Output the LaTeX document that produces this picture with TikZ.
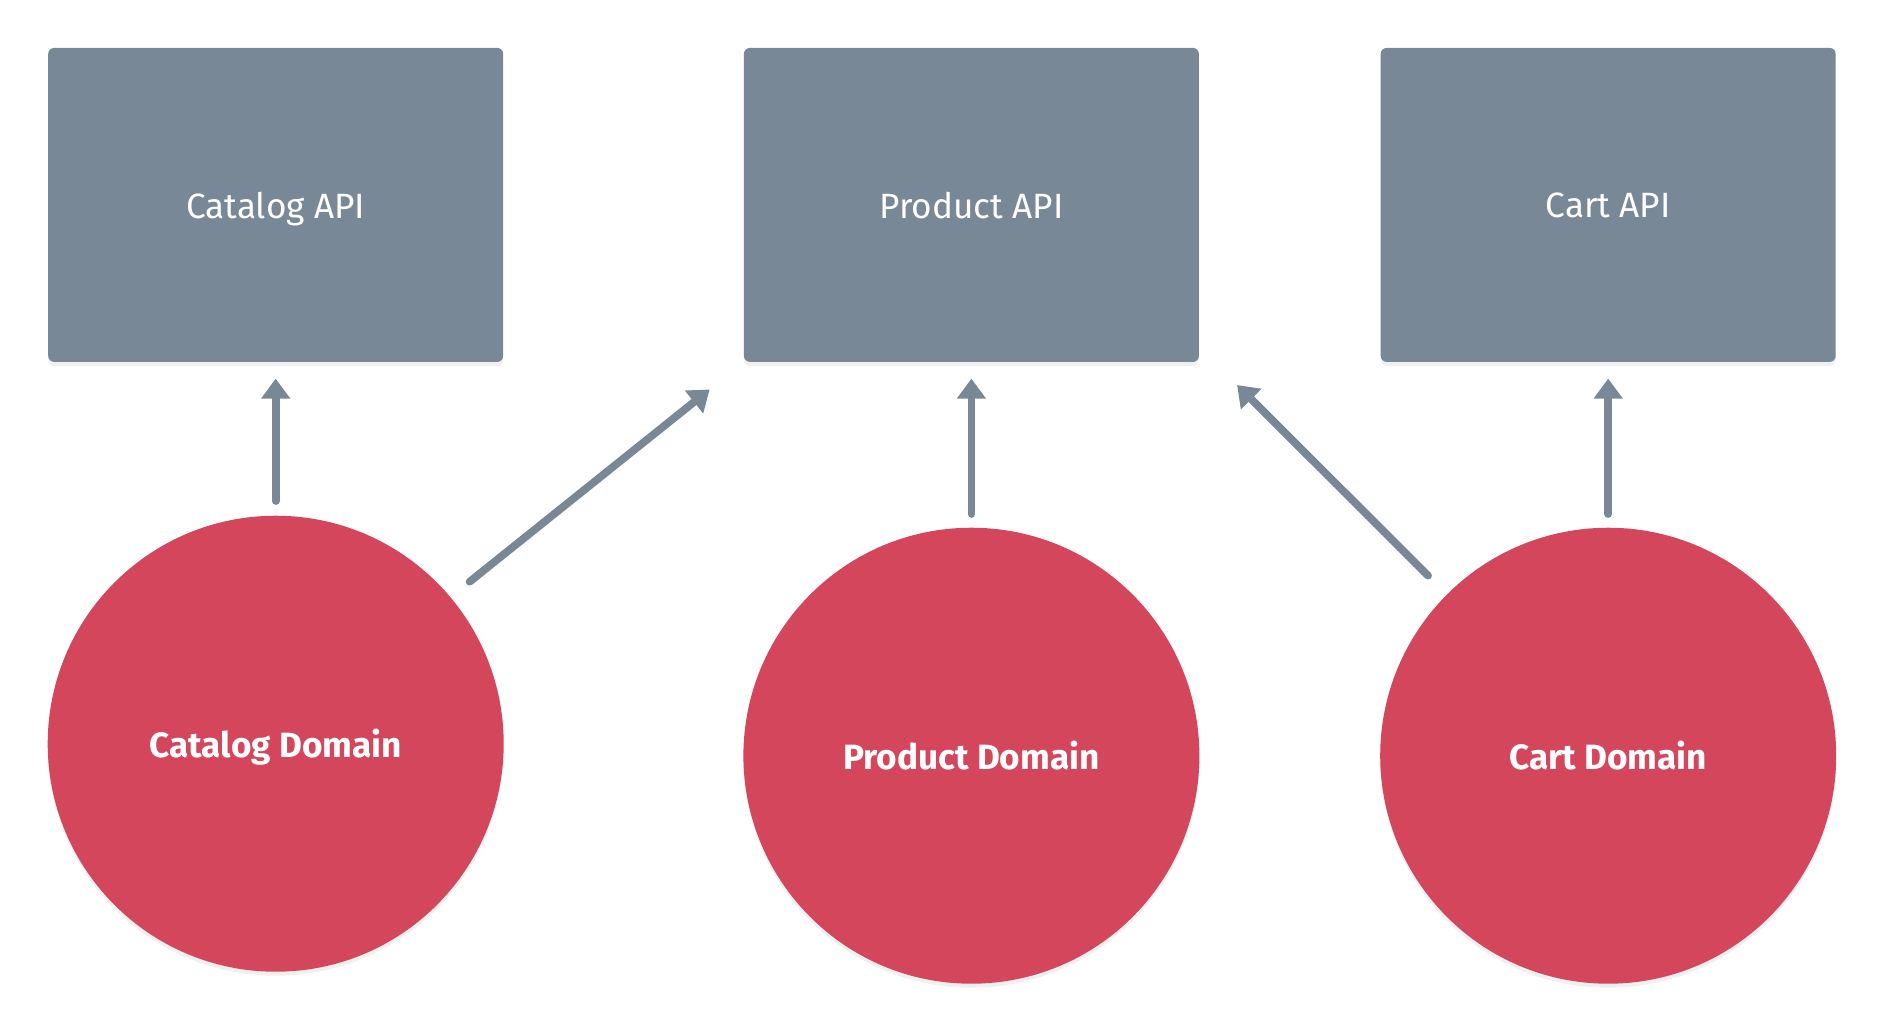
\documentclass[tikz,border=0pt]{standalone}
\usepackage{fontspec}
\setmainfont{Fira Sans}
\usetikzlibrary{arrows.meta,shadows}

\definecolor{apigrey}{HTML}{798897}
\definecolor{domred}{HTML}{D4465C}

\begin{document}
\begin{tikzpicture}[
  apibox/.style={fill=apigrey, rounded corners=0.6mm, minimum width=4.55cm, minimum height=3.14cm,
    text=white, text depth=0pt, font=\fontsize{10}{12}\selectfont,
    drop shadow={shadow xshift=0pt, shadow yshift=-0.04cm, opacity=0.12}},
  domcircle/.style={circle, fill=domred, minimum size=4.56cm, text=white, text depth=0pt,
    font=\fontsize{10}{12}\selectfont\bfseries,
    drop shadow={shadow xshift=0pt, shadow yshift=-0.04cm, opacity=0.12}},
  uses/.style={draw=apigrey, line width=2.2pt, line cap=round,
    -{Triangle[width=0.28cm,length=0.2cm]}}]
\tikzstyle{every node}+=[inner sep=0pt]
\useasboundingbox (0,0) rectangle (18.84,-10.32);
\node [apibox] (catapi) at (2.757,-2.049) {Catalog API};
\node [apibox] (prodapi) at (9.714,-2.049) {Product API};
\node [apibox] (cartapi) at (16.082,-2.049) {Cart API};
\node [domcircle] (catdom) at (2.757,-7.437) {Catalog Domain};
\node [domcircle] (proddom) at (9.714,-7.557) {Product Domain};
\node [domcircle] (cartdom) at (16.082,-7.557) {Cart Domain};
\draw [uses, shorten <=0.14cm, shorten >=0.16cm] (catdom.north) -- (catapi.south);
\draw [uses, shorten <=0.13cm, shorten >=0.16cm] (proddom.north) -- (prodapi.south);
\draw [uses, shorten <=0.13cm, shorten >=0.16cm] (cartdom.north) -- (cartapi.south);
\draw [uses, shorten <=0.24cm, shorten >=0.43cm] (catdom.40) -- (prodapi.south west);
\draw [uses, shorten <=0.26cm, shorten >=0.53cm] (cartdom.135) -- ([yshift=0.15cm]prodapi.south east);
\end{tikzpicture}
\end{document}
